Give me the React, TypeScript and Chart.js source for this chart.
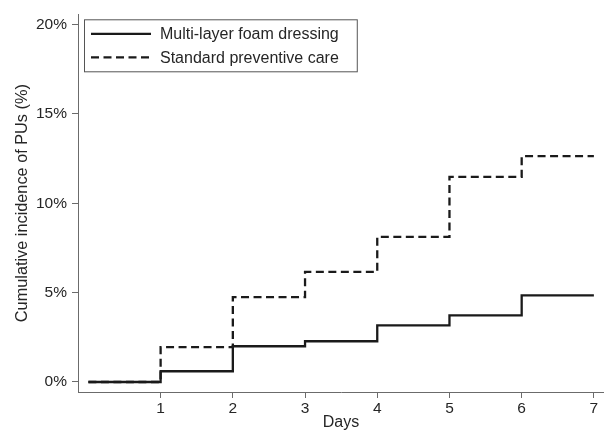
import React, { useEffect, useRef } from "react";
import { Chart, registerables } from "chart.js";

Chart.register(...registerables);

const days = [0, 1, 2, 3, 4, 5, 6, 7];
const foamDressing = [0, 0.6, 2.0, 2.28, 3.17, 3.73, 4.85, 4.85];
const standardCare = [0, 1.95, 4.75, 6.16, 8.12, 11.48, 12.64, 12.64];
const seriesLabels = ["Multi-layer foam dressing", "Standard preventive care"];
const xTickValues = [1, 2, 3, 4, 5, 6, 7];
const yTickValues = [0, 5, 10, 15, 20];
const xTitle = "Days";
const yTitle = "Cumulative incidence of PUs (%)";

const FONT = "'Liberation Sans', Arial, sans-serif";
const AXIS = "#6b6b6b";
const TEXT = "#262626";
const LINE = "#1a1a1a";

const legendPlugin = {
  id: "insideLegend",
  afterDraw(chart: any) {
    const { ctx, chartArea } = chart;
    const x0 = chartArea.left + 6;
    const y0 = chartArea.top + 5;
    ctx.save();
    ctx.font = `16px ${FONT}`;
    const textX = x0 + 76;
    let maxW = 0;
    chart.data.datasets.forEach((ds: any) => {
      maxW = Math.max(maxW, ctx.measureText(ds.label).width);
    });
    const w = textX - x0 + maxW + 18;
    const h = 52;
    ctx.fillStyle = "#fff";
    ctx.fillRect(x0, y0, w, h);
    ctx.strokeStyle = "#555";
    ctx.lineWidth = 1;
    ctx.strokeRect(x0 + 0.5, y0 + 0.5, w, h);
    const rows = [y0 + 14.5, y0 + 38];
    chart.data.datasets.forEach((ds: any, i: number) => {
      const y = rows[i];
      ctx.beginPath();
      ctx.strokeStyle = ds.borderColor;
      ctx.lineWidth = ds.borderWidth;
      ctx.setLineDash(ds.borderDash || []);
      ctx.moveTo(x0 + 7, y);
      ctx.lineTo(x0 + 67, y);
      ctx.stroke();
      ctx.setLineDash([]);
      ctx.fillStyle = TEXT;
      ctx.textBaseline = "middle";
      ctx.textAlign = "left";
      ctx.fillText(ds.label, textX, y + 1);
    });
    ctx.restore();
  },
};

export default function App() {
  const ref = useRef<HTMLCanvasElement | null>(null);
  useEffect(() => {
    if (!ref.current) return;
    const chart = new Chart(ref.current, {
      type: "line",
      data: {
        datasets: [
          {
            label: seriesLabels[0],
            data: days.map((d, i) => ({ x: d, y: foamDressing[i] })),
            borderColor: LINE,
            borderWidth: 2.3,
            stepped: true,
            pointRadius: 0,
            fill: false,
            order: 0,
          },
          {
            label: seriesLabels[1],
            data: days.map((d, i) => ({ x: d, y: standardCare[i] })),
            borderColor: LINE,
            borderWidth: 2.3,
            borderDash: [8, 4.5],
            stepped: true,
            pointRadius: 0,
            fill: false,
            order: 1,
          },
        ],
      },
      options: {
        animation: false,
        responsive: true,
        maintainAspectRatio: false,
        layout: { padding: { top: 14, right: 0, left: 0, bottom: 0 } },
        plugins: {
          legend: { display: false },
          tooltip: { enabled: false },
        },
        scales: {
          x: {
            type: "linear",
            min: -0.144,
            max: 7.14,
            afterBuildTicks: (s: any) => {
              s.ticks = xTickValues.map((v) => ({ value: v }));
            },
            afterFit: (s: any) => {
              s.height = 39;
            },
            grid: { drawOnChartArea: false, drawTicks: true, tickLength: 6, color: AXIS, lineWidth: 1 },
            border: { display: true, color: AXIS, width: 1 },
            ticks: {
              color: TEXT,
              font: { family: FONT, size: 15.5 },
              padding: 1,
              maxRotation: 0,
              autoSkip: false,
              callback: (v: any) => String(v),
            },
            title: {
              display: true,
              text: xTitle,
              color: TEXT,
              font: { family: FONT, size: 16, lineHeight: 1 },
              padding: { top: 0, bottom: 0 },
            },
          },
          y: {
            type: "linear",
            min: -0.56,
            max: 20.58,
            afterBuildTicks: (s: any) => {
              s.ticks = yTickValues.map((v) => ({ value: v }));
            },
            afterFit: (s: any) => {
              s.width = 78;
            },
            grid: { drawOnChartArea: false, drawTicks: true, tickLength: 6, color: AXIS, lineWidth: 1 },
            border: { display: true, color: AXIS, width: 1 },
            ticks: {
              color: TEXT,
              font: { family: FONT, size: 15.5 },
              padding: 5,
              autoSkip: false,
              callback: (v: any) => `${v}%`,
            },
            title: {
              display: true,
              text: yTitle,
              color: TEXT,
              font: { family: FONT, size: 16.3, lineHeight: 1.2 },
              padding: { top: 12.5, bottom: 0 },
            },
          },
        },
      },
      plugins: [legendPlugin],
    });
    return () => chart.destroy();
  }, []);
  return (
    <div style={{ position: "fixed", left: 0, top: 0, width: 604, height: 431, background: "#fff" }}>
      <canvas ref={ref} />
    </div>
  );
}
